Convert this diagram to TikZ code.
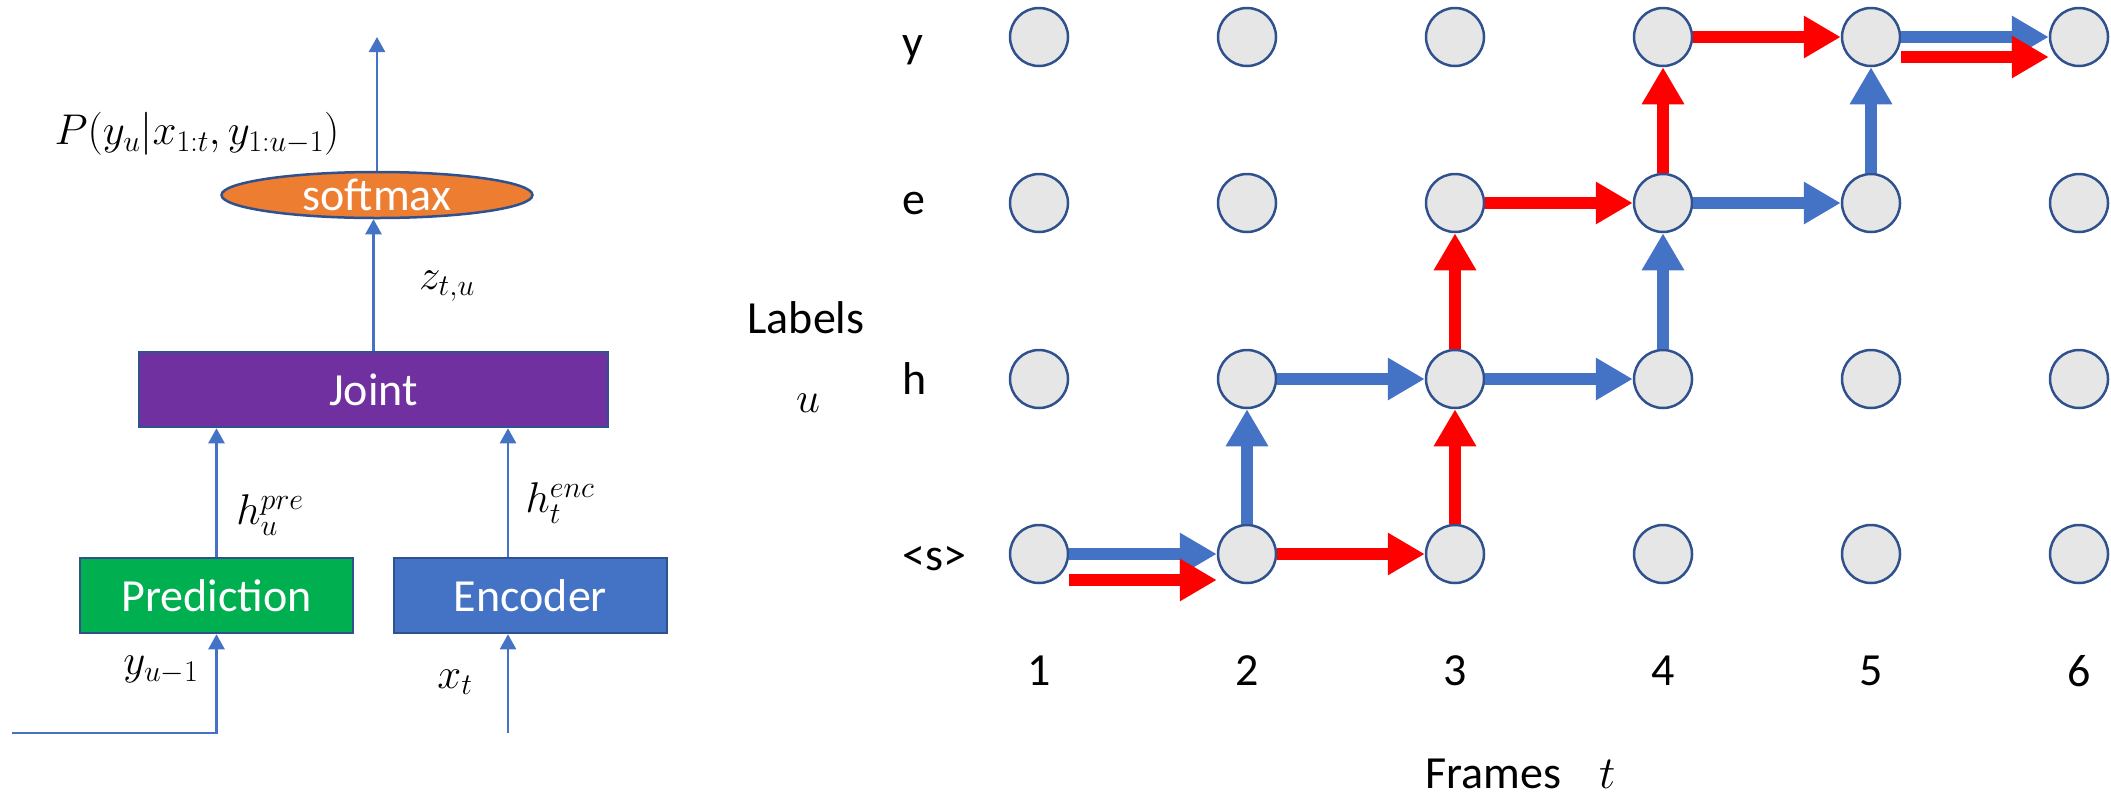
\RequirePackage{fix-cm}
\documentclass[tikz,border=0pt]{standalone}
\usepackage{amsmath}
\usepackage[no-math]{fontspec}
\newfontfamily\calibri{Carlito}
\newcommand{\calibriBig}{\calibri\fontsize{46}{55}\selectfont}
\newcommand{\mathBig}{\fontsize{43}{52}\selectfont}
\usetikzlibrary{arrows.meta, positioning, shapes.geometric}
\definecolor{officeblue}{HTML}{4472C4}
\definecolor{edgeblue}{HTML}{2F528F}
\definecolor{pathred}{HTML}{FF0000}
\definecolor{dotgray}{HTML}{E7E6E6}
\definecolor{softorange}{HTML}{ED7D31}
\definecolor{jointpurple}{HTML}{7030A0}
\definecolor{predgreen}{HTML}{00B050}
\tikzset{->,>={Triangle[length=15pt,width=16pt]},
    wire/.style={color=officeblue,line width=2.5pt},
    block/.style={rectangle,draw=edgeblue,line width=2.5pt,text=white,font=\calibriBig,minimum height=75pt,inner sep=0pt},
    prediction/.style={block,fill=predgreen,minimum width=273pt},
    encoder/.style={block,fill=officeblue,minimum width=273pt},
    joint/.style={block,fill=jointpurple,minimum width=469pt},
    softmax/.style={ellipse,draw=edgeblue,line width=2.5pt,fill=softorange,text=white,font=\calibriBig,minimum width=311pt,minimum height=46pt,inner sep=0pt},
    dot/.style={circle,draw=edgeblue,fill=dotgray,line width=2.5pt,minimum size=58pt,inner sep=0pt},
    bluestep/.style={color=officeblue,line width=12pt,-{Triangle[length=37pt,width=40pt]}},
    redstep/.style={bluestep,color=pathred},
    textnode/.style={font=\calibriBig,inner sep=0pt},
    mathnode/.style={font=\mathBig,inner sep=0pt}}

\begin{document}
\begin{tikzpicture}[x=1pt,y=-1pt,node distance=208pt]
\useasboundingbox (0,0) rectangle (2111,793);
% network
\node[softmax]    (soft)  at (377,195)     {softmax};
\node[joint]      (joint) at (373.5,389.5) {Joint};
\node[prediction] (pred)  at (216.5,595.5) {Prediction};
\node[encoder]    (enc)   [right of = pred, node distance=314pt] {Encoder};
\coordinate (out) at (377,37);
\coordinate (yin) at (12,733);
\coordinate (xin) at (508,733);
\draw[wire] (soft) -- (out);
\draw[wire] (joint.north) -- (joint.north |- soft.south);
\draw[wire] (pred.north) -- (pred.north |- joint.south);
\draw[wire] (xin |- enc.north) -- (xin |- joint.south);
\draw[wire] (xin) -- (xin |- enc.south);
\draw[wire] (yin) -| (pred.south);
\node[mathnode] (prob) at (197,134) {$P(y_u|x_{1:t},y_{1:u-1})$};
\node[mathnode] (zlab) at (447,286) {$z_{t,u}$};
\node[mathnode] (hpre) at (270,515) {$h_u^{pre}$};
\node[mathnode] (henc) at (560,503) {$h_t^{enc}$};
\node[mathnode] (ylab) at (161,670) {$y_{u-1}$};
\node[mathnode] (xlab) at (455,682) {$x_t$};
% lattice
\node[dot] (s1) at (1039,554) {};
\node[dot] (s2) [right of = s1] {}; \node[dot] (s3) [right of = s2] {}; \node[dot] (s4) [right of = s3] {};
\node[dot] (s5) [right of = s4] {}; \node[dot] (s6) [right of = s5] {};
\node[dot] (h1) [above of = s1, node distance=175pt] {};
\node[dot] (h2) [right of = h1] {}; \node[dot] (h3) [right of = h2] {}; \node[dot] (h4) [right of = h3] {};
\node[dot] (h5) [right of = h4] {}; \node[dot] (h6) [right of = h5] {};
\node[dot] (e1) [above of = h1, node distance=176pt] {};
\node[dot] (e2) [right of = e1] {}; \node[dot] (e3) [right of = e2] {}; \node[dot] (e4) [right of = e3] {};
\node[dot] (e5) [right of = e4] {}; \node[dot] (e6) [right of = e5] {};
\node[dot] (y1) [above of = e1, node distance=166pt] {};
\node[dot] (y2) [right of = y1] {}; \node[dot] (y3) [right of = y2] {}; \node[dot] (y4) [right of = y3] {};
\node[dot] (y5) [right of = y4] {}; \node[dot] (y6) [right of = y5] {};
\node[textnode,anchor=west] (ly) at (902,50)  {y};
\node[textnode,anchor=west] (le) at (902,203) {e};
\node[textnode,anchor=west] (lh) at (902,379) {h};
\node[textnode,anchor=west] (ls) at (902,559) {<s>};
\node[textnode] (labels) at (806,318) {Labels};
\node[mathnode] (ulab)   at (808,403) {$u$};
\node[textnode] (t1) [below of = s1, node distance=117pt] {1};
\node[textnode] (t2) [below of = s2, node distance=117pt] {2};
\node[textnode] (t3) [below of = s3, node distance=117pt] {3};
\node[textnode] (t4) [below of = s4, node distance=117pt] {4};
\node[textnode] (t5) [below of = s5, node distance=117pt] {5};
\node[textnode] (t6) [below of = s6, node distance=117pt] {6};
\node[textnode,anchor=west] (frames) at (1425,774) {Frames\hspace{38pt}$t$};
% alignment paths
\path[bluestep]
	(s1) edge (s2)	(s2) edge (h2)	(h2) edge (h3)	(h3) edge (h4)
	(h4) edge (e4)	(e4) edge (e5)	(e5) edge (y5)	(y5) edge (y6);
\path[redstep]
	(s2) edge (s3)	(s3) edge (h3)	(h3) edge (e3)	(e3) edge (e4)
	(e4) edge (y4)	(y4) edge (y5);
\draw[redstep] ([yshift=-26pt]s1.east) -- ([yshift=-26pt]s2.west);
\draw[redstep] ([yshift=-20pt]y5.east) -- ([yshift=-20pt]y6.west);
\end{tikzpicture}
\end{document}
